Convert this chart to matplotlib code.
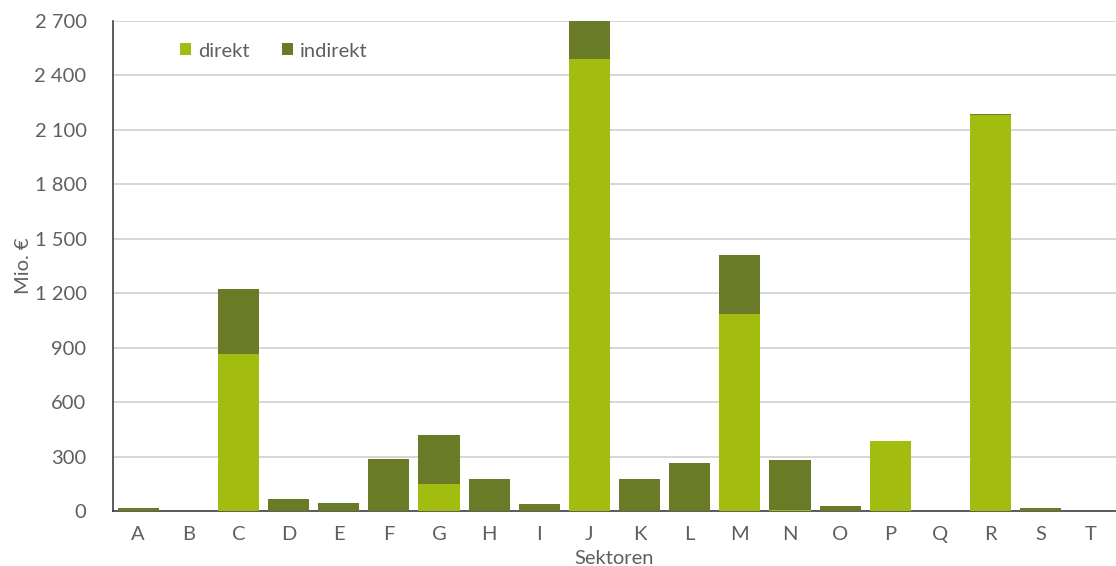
import matplotlib
matplotlib.use("Agg")
import matplotlib.pyplot as plt
import numpy as np

sectors = ["A", "B", "C", "D", "E", "F", "G", "H", "I", "J",
           "K", "L", "M", "N", "O", "P", "Q", "R", "S", "T"]
direkt = [0, 0, 863, 0, 0, 0, 151, 0, 0, 2491,
          0, 0, 1086, 8, 0, 385, 0, 2180, 0, 0]
indirekt = [15, 0, 362, 68, 44, 285, 267, 175, 36, 209,
            175, 263, 323, 275, 28, 0, 0, 8, 14, 0]
yticks = [0, 300, 600, 900, 1200, 1500, 1800, 2100, 2400, 2700]
ytick_labels = ["0", "300", "600", "900", "1 200", "1 500", "1 800", "2 100", "2 400", "2 700"]

c_direkt = "#A2BD0F"
c_indirekt = "#6A7B27"
txt = "#5F5F5F"

plt.rcParams['font.family'] = ['Lato', 'DejaVu Sans']
fs = 14.5

fig = plt.figure(figsize=(11.16, 5.66), dpi=100)
ax = fig.add_axes([113/1116, 1 - 511/566, 1 - 113/1116, (511 - 21)/566])

x = np.arange(len(sectors))
w = 0.82
ax.bar(x, direkt, width=w, color=c_direkt, label="direkt", zorder=3)
ax.bar(x, indirekt, width=w, bottom=direkt, color=c_indirekt, label="indirekt", zorder=3)

ax.set_xlim(-0.5, len(sectors) - 0.5)
ax.set_ylim(0, 2700)
ax.set_yticks(yticks)
ax.set_yticklabels(ytick_labels)
ax.set_xticks(x)
ax.set_xticklabels(sectors)
ax.yaxis.grid(True, color="#D3D3D3", linewidth=1.3, zorder=0)
ax.set_axisbelow(True)

for s in ["top", "right"]:
    ax.spines[s].set_visible(False)
ax.spines["left"].set_color("#404040")
ax.spines["bottom"].set_color("#404040")
ax.spines["left"].set_linewidth(1.2)
ax.spines["bottom"].set_linewidth(1.2)
ax.tick_params(axis="both", length=0, labelsize=fs, colors=txt)
ax.tick_params(axis="y", pad=19)
ax.tick_params(axis="x", pad=11)

ax.set_ylabel("Mio. €", fontsize=fs, color=txt)
ax.yaxis.set_label_coords(-0.081, 0.5)
ax.set_xlabel("Sektoren", fontsize=fs, color=txt, labelpad=5)

leg = ax.legend(loc="upper left", bbox_to_anchor=(0.049, 0.993), ncol=2, frameon=False,
                fontsize=fs, handlelength=0.55, handleheight=0.55, handletextpad=0.35,
                columnspacing=1.6)
for t in leg.get_texts():
    t.set_color(txt)

fig.savefig("out.png", dpi=100)
